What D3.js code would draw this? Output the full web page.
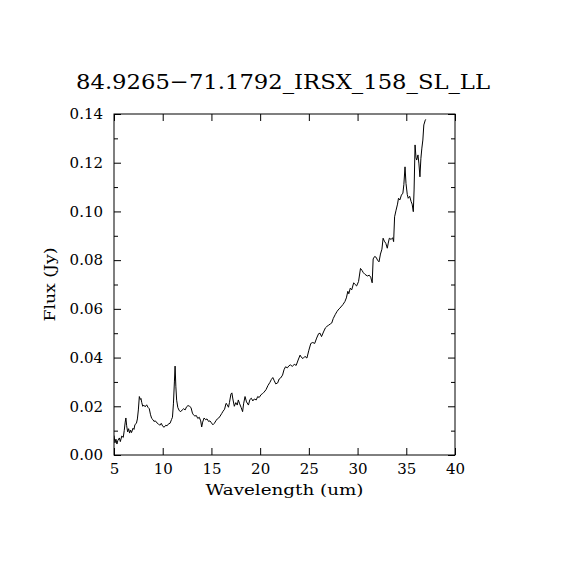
<!DOCTYPE html>
<html>
<head>
<meta charset="utf-8">
<script src="https://cdn.jsdelivr.net/npm/d3@7"></script>
<style>
  html, body { margin: 0; padding: 0; background: #fff; }
  svg { display: block; }
</style>
</head>
<body>
<svg id="chart" width="570" height="570"></svg>
<script>
const titleText = "84.9265\u221271.1792_IRSX_158_SL_LL";
const xTicks = [5, 10, 15, 20, 25, 30, 35, 40];
const yTicks = [0, 0.02, 0.04, 0.06, 0.08, 0.10, 0.12, 0.14];
const yMinorTicks = [0.01, 0.03, 0.05, 0.07, 0.09, 0.11, 0.13];

const wavelength = [
    5.00, 5.10, 5.20, 5.30, 5.40, 5.55, 5.65, 5.80, 5.95, 6.05, 6.15, 6.22, 6.30, 6.40, 6.50, 6.60,
    6.70, 6.80, 6.95, 7.05, 7.15, 7.30, 7.40, 7.50, 7.60, 7.70, 7.77, 7.85, 7.95, 8.05, 8.20, 8.35,
    8.50, 8.62, 8.75, 8.87, 9.00, 9.10, 9.25, 9.40, 9.55, 9.70, 9.85, 10.00, 10.15, 10.30, 10.45, 10.60,
    10.75, 10.90, 11.00, 11.10, 11.20, 11.27, 11.35, 11.43, 11.55, 11.70, 11.85, 12.00, 12.15, 12.30, 12.45, 12.60,
    12.75, 12.90, 13.05, 13.15, 13.30, 13.45, 13.60, 13.75, 13.90, 14.00, 14.10, 14.25, 14.40, 14.55, 14.70, 14.85,
    15.00, 15.15, 15.30, 15.45, 15.60, 15.75, 15.90, 16.05, 16.20, 16.35, 16.50, 16.60, 16.75, 16.85, 17.00, 17.10,
    17.20, 17.35, 17.50, 17.65, 17.76, 17.90, 18.05, 18.20, 18.30, 18.45, 18.60, 18.80, 18.95, 19.10, 19.25, 19.40,
    19.60, 19.75, 19.90, 20.10, 20.25, 20.40, 20.60, 20.80, 21.00, 21.15, 21.30, 21.45, 21.60, 21.80, 21.95, 22.10,
    22.30, 22.45, 22.60, 22.80, 22.95, 23.10, 23.30, 23.50, 23.70, 23.90, 24.10, 24.25, 24.40, 24.60, 24.80, 25.00,
    25.20, 25.40, 25.60, 25.80, 26.00, 26.15, 26.30, 26.50, 26.70, 26.85, 27.00, 27.20, 27.35, 27.50, 27.70, 27.90,
    28.10, 28.30, 28.50, 28.70, 28.85, 29.00, 29.10, 29.25, 29.40, 29.60, 29.75, 29.90, 30.10, 30.30, 30.45, 30.60,
    30.75, 31.00, 31.20, 31.35, 31.50, 31.60, 31.75, 31.90, 32.05, 32.20, 32.35, 32.50, 32.62, 32.75, 32.90, 33.05,
    33.15, 33.26, 33.45, 33.60, 33.70, 33.80, 33.95, 34.10, 34.20, 34.34, 34.50, 34.65, 34.75, 34.87, 34.97, 35.10,
    35.20, 35.35, 35.50, 35.60, 35.72, 35.80, 35.90, 36.00, 36.07, 36.20, 36.30, 36.40, 36.50, 36.60, 36.70, 36.80,
    36.95, 37.00
];

const flux = [
    0.0080, 0.0050, 0.0065, 0.0045, 0.0060, 0.0070, 0.0055, 0.0078, 0.0072, 0.0100, 0.0135, 0.0152, 0.0120, 0.0095, 0.0108, 0.0090,
    0.0102, 0.0092, 0.0110, 0.0105, 0.0125, 0.0130, 0.0148, 0.0185, 0.0240, 0.0228, 0.0232, 0.0215, 0.0200, 0.0205, 0.0198, 0.0206,
    0.0195, 0.0190, 0.0165, 0.0150, 0.0145, 0.0138, 0.0140, 0.0132, 0.0128, 0.0122, 0.0130, 0.0118, 0.0114, 0.0122, 0.0120, 0.0128,
    0.0130, 0.0145, 0.0155, 0.0210, 0.0300, 0.0365, 0.0280, 0.0225, 0.0195, 0.0182, 0.0178, 0.0185, 0.0190, 0.0185, 0.0198, 0.0203,
    0.0200, 0.0195, 0.0172, 0.0165, 0.0160, 0.0162, 0.0150, 0.0155, 0.0140, 0.0115, 0.0135, 0.0152, 0.0145, 0.0148, 0.0138, 0.0140,
    0.0132, 0.0124, 0.0130, 0.0140, 0.0148, 0.0152, 0.0160, 0.0170, 0.0180, 0.0188, 0.0212, 0.0208, 0.0196, 0.0215, 0.0250, 0.0255,
    0.0230, 0.0200, 0.0215, 0.0205, 0.0226, 0.0210, 0.0195, 0.0178, 0.0210, 0.0240, 0.0218, 0.0205, 0.0228, 0.0233, 0.0222, 0.0230,
    0.0226, 0.0240, 0.0236, 0.0248, 0.0252, 0.0258, 0.0268, 0.0285, 0.0298, 0.0310, 0.0318, 0.0305, 0.0292, 0.0296, 0.0312, 0.0316,
    0.0328, 0.0350, 0.0362, 0.0358, 0.0366, 0.0370, 0.0364, 0.0372, 0.0368, 0.0390, 0.0410, 0.0400, 0.0396, 0.0405, 0.0398, 0.0430,
    0.0458, 0.0462, 0.0458, 0.0480, 0.0498, 0.0500, 0.0486, 0.0505, 0.0522, 0.0528, 0.0532, 0.0538, 0.0542, 0.0560, 0.0576, 0.0590,
    0.0600, 0.0608, 0.0618, 0.0630, 0.0645, 0.0672, 0.0662, 0.0685, 0.0678, 0.0707, 0.0700, 0.0694, 0.0712, 0.0766, 0.0758, 0.0748,
    0.0742, 0.0735, 0.0738, 0.0730, 0.0707, 0.0805, 0.0815, 0.0812, 0.0800, 0.0793, 0.0825, 0.0845, 0.0890, 0.0878, 0.0869, 0.0849,
    0.0870, 0.0890, 0.0885, 0.0892, 0.0876, 0.0978, 0.1005, 0.1030, 0.1054, 0.1047, 0.1067, 0.1075, 0.1110, 0.1183, 0.1115, 0.1070,
    0.1054, 0.1062, 0.1040, 0.1030, 0.0999, 0.1088, 0.1273, 0.1220, 0.1211, 0.1232, 0.1195, 0.1142, 0.1218, 0.1260, 0.1293, 0.1355,
    0.1375, 0.1378
];

const svg = d3.select("#chart");
const FONT = "'DejaVu Serif', serif";
const plot = { left: 114, top: 114, right: 455, bottom: 455 };
const MAJOR = 7;
const MINOR = 4;

const x = d3.scaleLinear().domain([5, 40]).range([plot.left, plot.right]);
const y = d3.scaleLinear().domain([0, 0.14]).range([plot.bottom, plot.top]);

svg.append("rect")
    .attr("width", 570)
    .attr("height", 570)
    .attr("fill", "#fff");

// spectrum, clipped to the frame
svg.append("clipPath")
    .attr("id", "clip")
    .append("rect")
    .attr("x", plot.left)
    .attr("y", plot.top)
    .attr("width", plot.right - plot.left)
    .attr("height", plot.bottom - plot.top);

const line = d3.line()
    .x(i => x(wavelength[i]))
    .y(i => y(flux[i]));

svg.append("path")
    .attr("d", line(d3.range(wavelength.length)))
    .attr("clip-path", "url(#clip)")
    .attr("fill", "none")
    .attr("stroke", "#000")
    .attr("stroke-width", 1);

// axes with inward ticks on all four sides
const bottomAxis = d3.axisBottom(x).tickValues(xTicks).tickSize(-MAJOR).tickPadding(8).tickFormat(d3.format("d"));
const topAxis = d3.axisTop(x).tickValues(xTicks).tickSize(-MAJOR).tickFormat("");
const leftAxis = d3.axisLeft(y).tickValues(yTicks).tickSize(-MAJOR).tickPadding(11).tickFormat(d3.format(".2f"));
const rightAxis = d3.axisRight(y).tickValues(yTicks).tickSize(-MAJOR).tickFormat("");
const leftMinor = d3.axisLeft(y).tickValues(yMinorTicks).tickSize(-MINOR).tickFormat("");
const rightMinor = d3.axisRight(y).tickValues(yMinorTicks).tickSize(-MINOR).tickFormat("");

function drawAxis(axis, tx, ty) {
    const g = svg.append("g")
        .attr("transform", `translate(${tx},${ty})`)
        .call(axis);
    g.select(".domain").remove();
    g.selectAll("line").attr("stroke", "#000").attr("stroke-width", 1);
    g.selectAll("text")
        .attr("fill", "#000")
        .style("font-family", FONT)
        .style("font-size", "15px");
    return g;
}

drawAxis(bottomAxis, 0, plot.bottom);
drawAxis(topAxis, 0, plot.top);
drawAxis(leftAxis, plot.left, 0);
drawAxis(rightAxis, plot.right, 0);
drawAxis(leftMinor, plot.left, 0);
drawAxis(rightMinor, plot.right, 0);

svg.append("rect")
    .attr("x", plot.left)
    .attr("y", plot.top)
    .attr("width", plot.right - plot.left)
    .attr("height", plot.bottom - plot.top)
    .attr("fill", "none")
    .attr("stroke", "#000")
    .attr("stroke-width", 1);

// titles
svg.append("text")
    .attr("x", 283)
    .attr("y", 89)
    .attr("text-anchor", "middle")
    .attr("textLength", 414)
    .attr("lengthAdjust", "spacingAndGlyphs")
    .style("font-family", FONT)
    .style("font-size", "21px")
    .text(titleText);

svg.append("text")
    .attr("x", (plot.left + plot.right) / 2)
    .attr("y", 495)
    .attr("text-anchor", "middle")
    .attr("textLength", 158)
    .attr("lengthAdjust", "spacingAndGlyphs")
    .style("font-family", FONT)
    .style("font-size", "15px")
    .text("Wavelength (um)");

svg.append("text")
    .attr("transform", `translate(55,${(plot.top + plot.bottom) / 2}) rotate(-90)`)
    .attr("text-anchor", "middle")
    .attr("textLength", 74)
    .attr("lengthAdjust", "spacingAndGlyphs")
    .style("font-family", FONT)
    .style("font-size", "15px")
    .text("Flux (Jy)");
</script>
</body>
</html>
